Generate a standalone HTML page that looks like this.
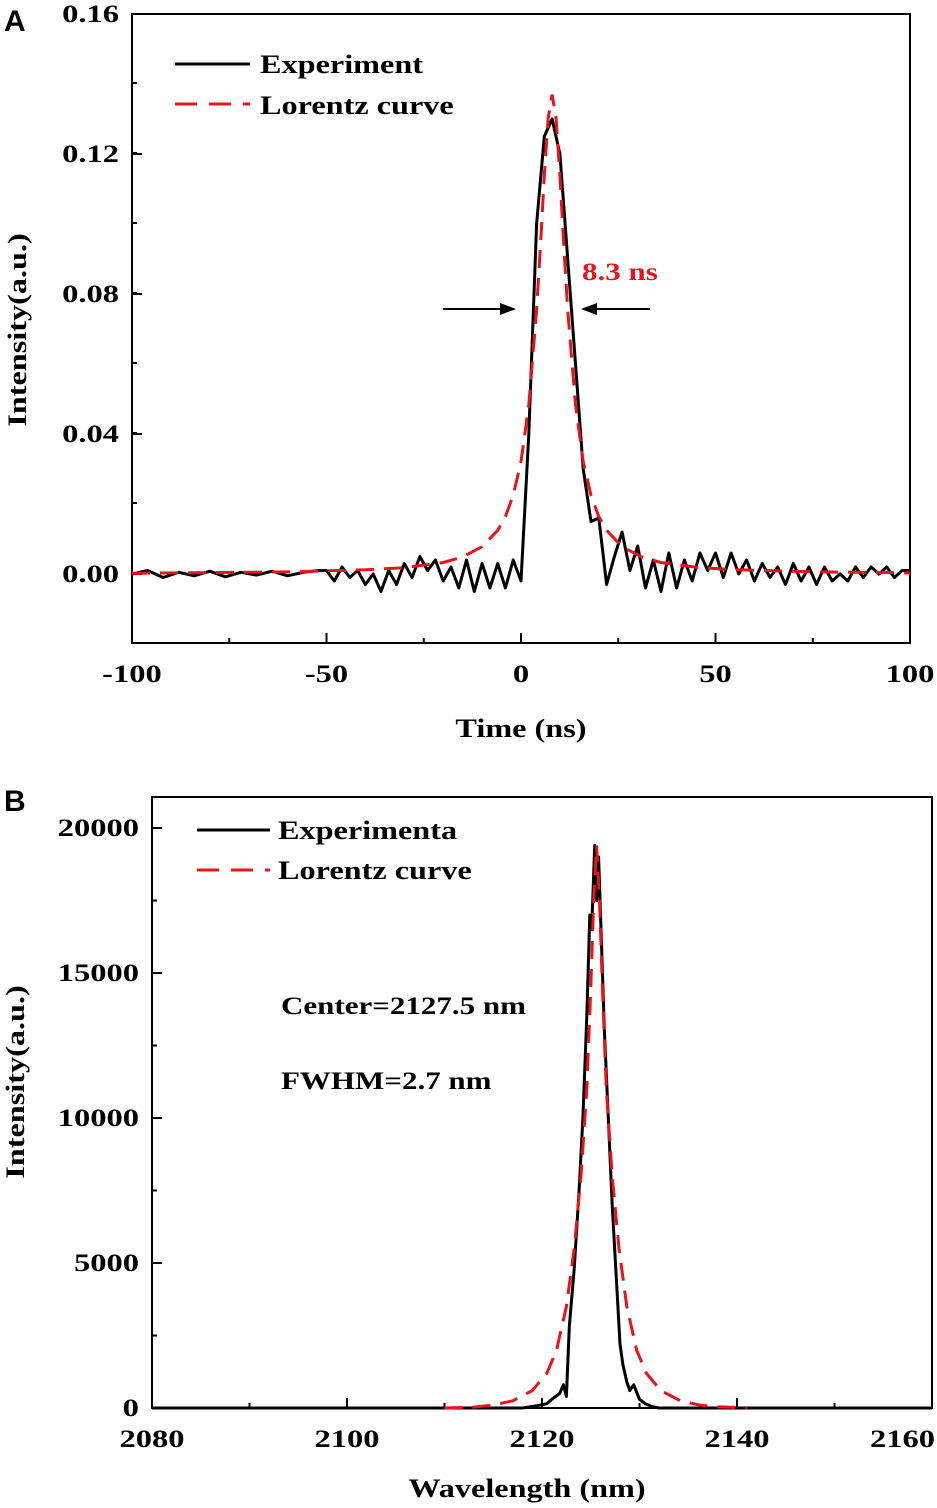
<!DOCTYPE html>
<html><head><meta charset="utf-8">
<style>
html,body{margin:0;padding:0;background:#fff;}
svg{display:block;font-family:"Liberation Serif",serif;}
.tick{font-weight:bold;font-size:25px;}
</style></head>
<body>
<svg id="fig" width="937" height="1508" viewBox="0 0 937 1508" xmlns="http://www.w3.org/2000/svg">
<text x="4" y="31" font-family="Liberation Sans,sans-serif" font-weight="bold" font-size="30">A</text>
<text x="4" y="811" font-family="Liberation Sans,sans-serif" font-weight="bold" font-size="30">B</text>
<g id="pa"></g>
<g id="pb"></g>
</svg>
<script>
// Panel A data
const aExpT = [-100,-96,-92,-88,-84,-80,-76,-72,-68,-64,-60,-56,-52,-50,-48,-46,-44,-42,-40,-38,-36,-34,-32,-30,-28,-26,-24,-22,-20,-18,-16,-14,-12,-10,-8,-6,-4,-2,0,2,4,6,8,10,12,14,16,18,20,22,24,26,28,30,32,34,36,38,40,42,44,46,48,50,52,54,56,58,60,62,64,66,68,70,72,74,76,78,80,82,84,86,88,90,92,94,96,98,100];
const aExpV = [0.000,0.001,-0.001,0.0005,-0.0005,0.0008,-0.0008,0.0005,-0.0003,0.0008,-0.0005,0.0005,0.001,0.001,-0.002,0.002,-0.001,0.001,-0.003,0.000,-0.005,0.001,-0.003,0.003,-0.001,0.005,0.001,0.004,-0.002,0.002,-0.004,0.004,-0.005,0.003,-0.004,0.003,-0.004,0.004,-0.002,0.040,0.100,0.125,0.130,0.120,0.090,0.060,0.030,0.015,0.016,-0.003,0.005,0.012,0.001,0.008,-0.004,0.004,-0.005,0.006,-0.004,0.004,-0.002,0.006,0.001,0.006,-0.001,0.006,0.000,0.004,-0.002,0.003,-0.001,0.002,-0.003,0.003,-0.002,0.002,-0.003,0.002,-0.002,0.000,-0.002,0.002,-0.001,0.002,0.000,0.002,-0.001,0.001,0.001];
const aFitT = [-100,-80,-60,-40,-30,-20,-15,-10,-6,-4,-2,0,2,4,5,6,7,8,9,10,11,12,14,16,18,20,22,26,31,36,46,56,76,96,100];
const aFitV = [0.0002,0.0004,0.0006,0.0012,0.0018,0.0033,0.0049,0.0078,0.0125,0.0164,0.0225,0.0321,0.0483,0.0754,0.0939,0.1138,0.1303,0.137,0.1303,0.1138,0.0939,0.0754,0.0483,0.0321,0.0225,0.0164,0.0125,0.0078,0.0049,0.0033,0.0018,0.0012,0.0006,0.0004,0.0003];
const aXTicks = [-100,-50,0,50,100];
const aYTicks = [0.00,0.04,0.08,0.12,0.16];
const aYTickLabels = ["0.00","0.04","0.08","0.12","0.16"];
// Panel B data
const bExpX = [2080,2110,2118,2119.5,2120.5,2121,2121.8,2122.2,2122.5,2122.8,2123.3,2123.8,2124.2,2124.6,2124.9,2125.1,2125.4,2125.6,2125.8,2126.1,2126.4,2126.8,2127.2,2127.7,2128.0,2128.3,2128.7,2129,2129.4,2130,2130.6,2131.3,2132,2160];
const bExpV = [0,0,0,80,150,300,500,800,400,2800,4800,7500,10000,13500,17000,16500,19400,17500,19000,16000,13000,10000,7000,4000,2200,1500,900,600,800,300,150,50,0,0];
const bFitX = [2110,2113,2115,2117,2119,2120.5,2121.5,2122.5,2123.3,2124,2124.6,2125,2125.3,2125.6,2125.9,2126.2,2126.6,2127.2,2127.9,2128.7,2129.7,2130.7,2132.2,2134.2,2136.2,2138,2141];
const bFitV = [0,30,100,250,600,1200,2000,3500,5500,8000,11000,14500,17500,19400,17500,14500,11000,8000,5500,3500,2000,1200,600,250,100,40,10];
const bXTicks = [2080,2100,2120,2140,2160];
const bYTicks = [0,5000,10000,15000,20000];

const NS='http://www.w3.org/2000/svg';
function mk(parent,tag,attrs){const e=document.createElementNS(NS,tag);for(const k in attrs)e.setAttribute(k,attrs[k]);parent.appendChild(e);return e;}
function stretch(t,f){const w=t.getComputedTextLength();t.setAttribute('textLength',(w*f).toFixed(1));t.setAttribute('lengthAdjust','spacingAndGlyphs');}

function panel(g,cfg){
  const {L,R,T,B,xmin,xmax,ymin,ymax}=cfg;
  const sx=v=>L+(v-xmin)/(xmax-xmin)*(R-L);
  const sy=v=>B-(v-ymin)/(ymax-ymin)*(B-T);
  const frame=mk(g,'rect',{x:L,y:T,width:R-L,height:B-T,fill:'none',stroke:'#000','stroke-width':2});
  
  
  for(let v=xmin;v<=xmax+1e-9;v+=cfg.xMinor){
    const t=mk(g,'line',{x1:sx(v),x2:sx(v),y1:B,y2:B-5,stroke:'#000','stroke-width':2});
    
    
  }
  for(let v=ymin;v<=ymax+1e-9;v+=cfg.yMinor){
    const t=mk(g,'line',{x1:L,x2:L+5,y1:sy(v),y2:sy(v),stroke:'#000','stroke-width':2});
    
    
  }
  cfg.xTicks.forEach(v=>{
    const t=mk(g,'line',{x1:sx(v),x2:sx(v),y1:B,y2:B-10,stroke:'#000','stroke-width':2});
    
    
    const tx=mk(g,'text',{x:sx(v),y:B+39,'text-anchor':'middle',class:'tick'});
    tx.textContent=String(v);
    
    
    stretch(tx,1.3);
    const w=tx.getComputedTextLength ? parseFloat(tx.getAttribute('textLength')) : 0;
    if(sx(v)+w/2>935){tx.setAttribute('text-anchor','end');tx.setAttribute('x',935);}
  });
  cfg.yTicks.forEach((v,i)=>{
    const t=mk(g,'line',{x1:L,x2:L+10,y1:sy(v),y2:sy(v),stroke:'#000','stroke-width':2});
    
    
    const tx=mk(g,'text',{x:L-13,y:sy(v)+8,'text-anchor':'end',class:'tick'});
    tx.textContent=cfg.yLabels?cfg.yLabels[i]:String(v);
    
    
    stretch(tx,1.3);
  });
  const exp=mk(g,'path',{d:cfg.ex.map((x,i)=>(i?'L':'M')+sx(x).toFixed(1)+','+sy(cfg.ev[i]).toFixed(1)).join(''),fill:'none',stroke:'#000','stroke-width':3,'stroke-linejoin':'round'});
  
  
  const fit=mk(g,'path',{d:cfg.fx.map((x,i)=>(i?'L':'M')+sx(x).toFixed(1)+','+sy(cfg.fv[i]).toFixed(1)).join(''),fill:'none',stroke:'#e8141c','stroke-width':3,'stroke-dasharray':'18,10'});
  
  
  return {sx,sy};
}

const pa=document.getElementById('pa');
panel(pa,{L:132,R:910,T:14,B:643,xmin:-100,xmax:100,ymin:-0.0197,ymax:0.16,xMinor:25,yMinor:0.02,
  xTicks:aXTicks,yTicks:aYTicks,yLabels:aYTickLabels,ex:aExpT,ev:aExpV,fx:aFitT,fv:aFitV});
const pb=document.getElementById('pb');
panel(pb,{L:152,R:932,T:797,B:1408,xmin:2080,xmax:2160,ymin:0,ymax:21070,xMinor:10,yMinor:2500,
  xTicks:bXTicks,yTicks:bYTicks,ex:bExpX,ev:bExpV,fx:bFitX,fv:bFitV});

function txt(g,name,x,y,s,attrs){const t=mk(g,'text',Object.assign({x:x,y:y,'font-weight':'bold','font-size':26},attrs||{}));t.textContent=s;stretch(t,1.24);return t;}
function ln(g,name,a){const l=mk(g,'line',a);return l;}
// Panel A annotations
ln(pa,'legend-experiment-line',{x1:175,x2:250,y1:64,y2:64,stroke:'#000','stroke-width':3});
txt(pa,'legend-experiment-label',260,73,'Experiment');
ln(pa,'legend-lorentz-line',{x1:175,x2:250,y1:104,y2:104,stroke:'#e8141c','stroke-width':3,'stroke-dasharray':'22,12'});
txt(pa,'legend-lorentz-label',260,114,'Lorentz curve');
txt(pa,'fwhm-annotation',582,280,'8.3 ns',{fill:'#e8141c','font-size':25});
ln(pa,'left-arrow-line',{x1:443,x2:510,y1:309,y2:309,stroke:'#000','stroke-width':2});
mk(pa,'path',{d:'M516,309 L500,303 L500,315 Z',fill:'#000'});
ln(pa,'right-arrow-line',{x1:588,x2:650,y1:309,y2:309,stroke:'#000','stroke-width':2});
mk(pa,'path',{d:'M581,309 L597,303 L597,315 Z',fill:'#000'});
txt(pa,'x-axis-title',521,737,'Time (ns)',{'text-anchor':'middle'});
txt(pa,'y-axis-title',0,0,'Intensity(a.u.)',{'text-anchor':'middle',transform:'translate(26,330) rotate(-90)'});
// Panel B annotations
ln(pb,'legend-experiment-line',{x1:197,x2:270,y1:830,y2:830,stroke:'#000','stroke-width':3});
txt(pb,'legend-experiment-label',278,839,'Experimenta');
ln(pb,'legend-lorentz-line',{x1:197,x2:270,y1:870,y2:870,stroke:'#e8141c','stroke-width':3,'stroke-dasharray':'22,12'});
txt(pb,'legend-lorentz-label',278,879,'Lorentz curve');
txt(pb,'center-annotation',281,1014,'Center=2127.5 nm',{'font-size':25});
txt(pb,'fwhm-annotation',281,1089,'FWHM=2.7 nm',{'font-size':25});
txt(pb,'x-axis-title',527,1497,'Wavelength (nm)',{'text-anchor':'middle'});
txt(pb,'y-axis-title',0,0,'Intensity(a.u.)',{'text-anchor':'middle',transform:'translate(24,1082) rotate(-90)'});
</script>
</body></html>
